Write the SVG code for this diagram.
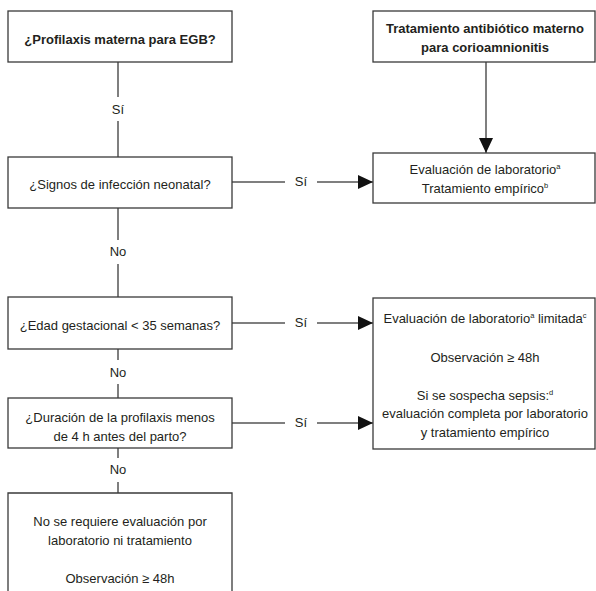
<svg xmlns="http://www.w3.org/2000/svg" width="596" height="591" viewBox="0 0 596 591">
<defs>
<style>
.box{fill:#fff;stroke:#3a3a3a;stroke-width:1.3}
.ln{fill:none;stroke:#555;stroke-width:1.5}
.t{font-family:"Liberation Sans",Arial,sans-serif;font-size:13px;fill:#231f20;text-anchor:middle}
.b{font-weight:bold}
.sup{font-size:7.5px}
</style>
<marker id="ah" markerUnits="userSpaceOnUse" markerWidth="16" markerHeight="14" refX="15" refY="7" orient="auto">
<path d="M0,0 L15,7 L0,14 Z" fill="#111"/>
</marker>
</defs>
<rect width="596" height="591" fill="#fff"/>
<g id="connectors">
<path class="ln" d="M118,62 V97 M118,121 V157"/>
<path class="ln" d="M486,62 V153" marker-end="url(#ah)"/>
<path class="ln" d="M232,182 H285"/>
<path class="ln" d="M317,182 H373" marker-end="url(#ah)"/>
<path class="ln" d="M118,208 V240 M118,264 V297"/>
<path class="ln" d="M232,323 H285"/>
<path class="ln" d="M317,323 H373" marker-end="url(#ah)"/>
<path class="ln" d="M118,349 V360 M118,384 V398"/>
<path class="ln" d="M232,423 H285"/>
<path class="ln" d="M317,423 H373" marker-end="url(#ah)"/>
<path class="ln" d="M118,448 V458 M118,482 V493"/>
<text class="t" x="118" y="114">Sí</text>
<text class="t" x="301" y="186">Sí</text>
<text class="t" x="118" y="256">No</text>
<text class="t" x="301" y="327">Sí</text>
<text class="t" x="118" y="377">No</text>
<text class="t" x="301" y="427">Sí</text>
<text class="t" x="118" y="474">No</text>
</g>
<g id="n1">
<rect class="box" x="8" y="11" width="224" height="51"/>
<text class="t b" x="120" y="44">¿Profilaxis materna para EGB?</text>
</g>
<g id="n2">
<rect class="box" x="373" y="11" width="222" height="51"/>
<text class="t b" x="485" y="33">Tratamiento antibiótico materno</text>
<text class="t b" x="485" y="52">para corioamnionitis</text>
</g>
<g id="n3">
<rect class="box" x="373" y="153" width="222" height="50"/>
<text class="t" x="485" y="174">Evaluación de laboratorio<tspan class="sup" dy="-5">a</tspan></text>
<text class="t" x="485" y="193">Tratamiento empírico<tspan class="sup" dy="-5">b</tspan></text>
</g>
<g id="n4">
<rect class="box" x="8" y="157" width="224" height="51"/>
<text class="t" x="120" y="189">¿Signos de infección neonatal?</text>
</g>
<g id="n5">
<rect class="box" x="8" y="297" width="224" height="52"/>
<text class="t" x="120" y="330">¿Edad gestacional &lt; 35 semanas?</text>
</g>
<g id="n6">
<rect class="box" x="373" y="298" width="222" height="151"/>
<text class="t" x="485" y="323">Evaluación de laboratorio<tspan class="sup" dy="-5">a</tspan><tspan dy="5"> limitada</tspan><tspan class="sup" dy="-5">c</tspan></text>
<text class="t" x="485" y="362">Observación ≥ 48h</text>
<text class="t" x="485" y="400">Si se sospecha sepsis:<tspan class="sup" dy="-5">d</tspan></text>
<text class="t" x="485" y="418">evaluación completa por laboratorio</text>
<text class="t" x="485" y="437">y tratamiento empírico</text>
</g>
<g id="n7">
<rect class="box" x="8" y="398" width="224" height="50"/>
<text class="t" x="120" y="422">¿Duración de la profilaxis menos</text>
<text class="t" x="120" y="441">de 4 h antes del parto?</text>
</g>
<g id="n8">
<path class="box" d="M8,600 V493 H232 V600"/>
<text class="t" x="120" y="526">No se requiere evaluación por</text>
<text class="t" x="120" y="545">laboratorio ni tratamiento</text>
<text class="t" x="120" y="583">Observación ≥ 48h</text>
</g>
</svg>
